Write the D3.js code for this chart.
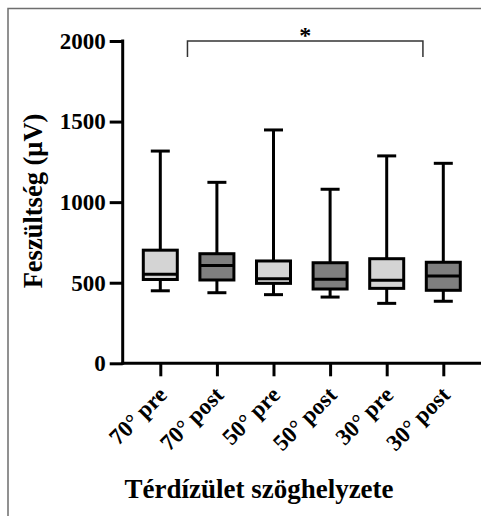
<!DOCTYPE html>
<html>
<head>
<meta charset="utf-8">
<script src="https://cdn.jsdelivr.net/npm/d3@7"></script>
<style>
  body { margin: 0; background: #fff; }
  svg text { font-family: "Liberation Serif", "DejaVu Serif", serif; fill: #000; }
</style>
</head>
<body>
<div id="chart"></div>
<script>
// box plot values (μV)
var categories = ['70° pre', '70° post', '50° pre', '50° post', '30° pre', '30° post'];
var whiskerLow = [450, 438, 426, 411, 372, 385];
var q1 = [520, 517, 496, 461, 465, 453];
var median = [553, 607, 525, 521, 515, 542];
var q3 = [702, 680, 635, 624, 649, 627];
var whiskerHigh = [1317, 1123, 1448, 1080, 1287, 1241];
var fills = ['#d4d4d4', '#7f7f7f', '#d4d4d4', '#7f7f7f', '#d4d4d4', '#7f7f7f'];
var yTicks = [0, 500, 1000, 1500, 2000];

var w = 481, h = 516;
var svg = d3.select('#chart').append('svg')
    .attr('width', w)
    .attr('height', h);

// thin frame on top / left
svg.append('path')
    .attr('d', 'M8,516 V8.5 H481')
    .attr('fill', 'none')
    .attr('stroke', '#6e6e6e')
    .attr('stroke-width', 1.5);

var x = d3.scalePoint().domain(categories).range([160.3, 443.3]);
var y = d3.scaleLinear().domain([0, 2000]).range([363.3, 41]);
var axisX0 = 122.7;
var boxW = 34, capW = 19;

// y axis
var yAxis = svg.append('g')
    .attr('transform', 'translate(' + axisX0 + ',0)')
    .call(d3.axisLeft(y).tickValues(yTicks).tickSize(13).tickPadding(4).tickFormat(d3.format('d')));
yAxis.select('.domain').remove();
yAxis.selectAll('.tick line').attr('stroke', '#000').attr('stroke-width', 3);
yAxis.selectAll('.tick text')
    .attr('font-size', 23)
    .attr('font-weight', 'bold')
    .attr('font-family', '"Liberation Serif", serif');
svg.append('line')
    .attr('x1', axisX0).attr('x2', axisX0)
    .attr('y1', y(2000) - 1.5).attr('y2', y(0) + 1.5)
    .attr('stroke', '#000').attr('stroke-width', 3);

// x axis
var xAxis = svg.append('g')
    .attr('transform', 'translate(0,' + y(0) + ')')
    .call(d3.axisBottom(x).tickSize(13).tickFormat(''));
xAxis.select('.domain').remove();
xAxis.selectAll('.tick line').attr('stroke', '#000').attr('stroke-width', 3);
svg.append('line')
    .attr('x1', axisX0 - 1.5).attr('x2', w)
    .attr('y1', y(0)).attr('y2', y(0))
    .attr('stroke', '#000').attr('stroke-width', 3);

svg.selectAll('.xlabel')
    .data(categories)
    .enter()
    .append('text')
    .attr('class', 'xlabel')
    .attr('text-anchor', 'end')
    .attr('font-size', 23)
    .attr('font-weight', 'bold')
    .attr('transform', function(d) {
        return 'translate(' + (x(d) + 8) + ',' + (y(0) + 33) + ') rotate(-45)';
    })
    .text(function(d) { return d; });

// boxes
var groups = svg.selectAll('.box')
    .data(categories)
    .enter()
    .append('g')
    .attr('class', 'box');

groups.append('line')
    .attr('x1', function(d) { return x(d); })
    .attr('x2', function(d) { return x(d); })
    .attr('y1', function(d, i) { return y(whiskerHigh[i]); })
    .attr('y2', function(d, i) { return y(whiskerLow[i]); })
    .attr('stroke', '#000').attr('stroke-width', 3);

groups.selectAll('.cap')
    .data(function(d, i) { return [whiskerLow[i], whiskerHigh[i]].map(function(v) { return { c: d, v: v }; }); })
    .enter()
    .append('line')
    .attr('class', 'cap')
    .attr('x1', function(d) { return x(d.c) - capW / 2; })
    .attr('x2', function(d) { return x(d.c) + capW / 2; })
    .attr('y1', function(d) { return y(d.v); })
    .attr('y2', function(d) { return y(d.v); })
    .attr('stroke', '#000').attr('stroke-width', 3);

groups.append('rect')
    .attr('x', function(d) { return x(d) - boxW / 2; })
    .attr('y', function(d, i) { return y(q3[i]); })
    .attr('width', boxW)
    .attr('height', function(d, i) { return y(q1[i]) - y(q3[i]); })
    .attr('fill', function(d, i) { return fills[i]; })
    .attr('stroke', '#000').attr('stroke-width', 3);

groups.append('line')
    .attr('x1', function(d) { return x(d) - boxW / 2; })
    .attr('x2', function(d) { return x(d) + boxW / 2; })
    .attr('y1', function(d, i) { return y(median[i]); })
    .attr('y2', function(d, i) { return y(median[i]); })
    .attr('stroke', '#000').attr('stroke-width', 3);

// significance bracket between 70° pre and 30° post
var step = x.step();
var bx1 = x(categories[0]) + step * 0.48;
var bx2 = x(categories[5]) - step * 0.36;
var by = y(2000);
svg.append('path')
    .attr('d', 'M' + bx1 + ',' + y(1900) + ' V' + by + ' H' + bx2 + ' V' + y(1900))
    .attr('fill', 'none')
    .attr('stroke', '#333')
    .attr('stroke-width', 1.5);
svg.append('text')
    .attr('x', (bx1 + bx2) / 2)
    .attr('y', by + 2)
    .attr('text-anchor', 'middle')
    .attr('font-size', 24)
    .attr('font-weight', 'bold')
    .text('*');

// axis titles
svg.append('text')
    .attr('transform', 'translate(42,201) rotate(-90)')
    .attr('text-anchor', 'middle')
    .attr('font-size', 26.5)
    .attr('font-weight', 'bold')
    .text('Feszültség (μV)');

svg.append('text')
    .attr('x', 259)
    .attr('y', 498)
    .attr('text-anchor', 'middle')
    .attr('font-size', 27)
    .attr('font-weight', 'bold')
    .text('Térdízület szöghelyzete');
</script>
</body>
</html>
